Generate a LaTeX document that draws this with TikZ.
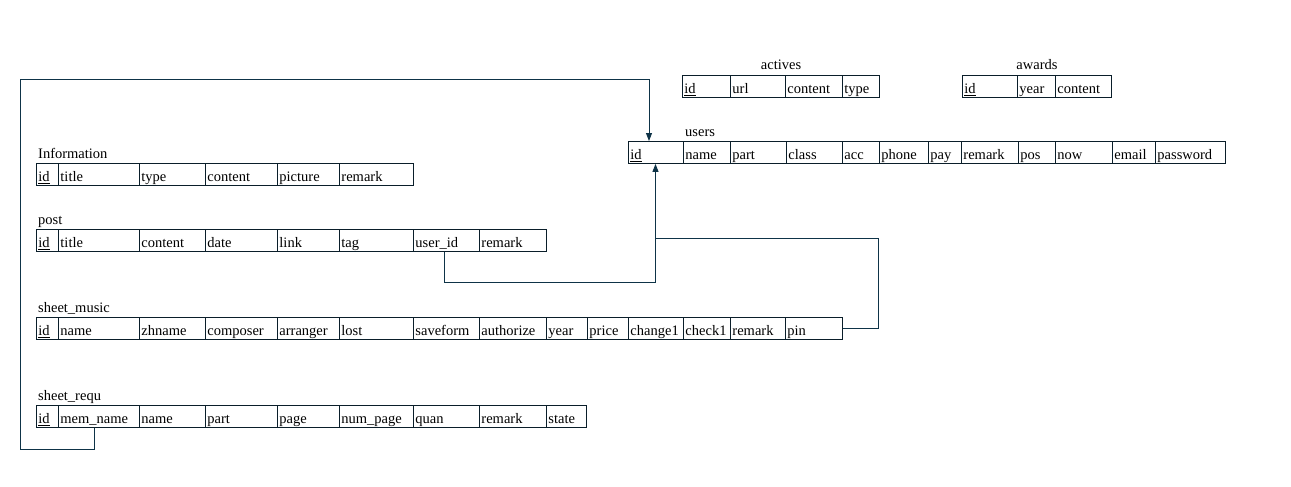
\documentclass[tikz,border=0pt]{standalone}
\usepackage{fontspec}
\setmainfont{Liberation Serif}
\usetikzlibrary{arrows.meta}
\definecolor{tabline}{HTML}{0A1E2A}
\definecolor{conncol}{HTML}{0E3347}
\newcommand{\tabrow}[3]{%
  \foreach \xa/\xb/\key/\txt in {#3}{%
    \pgfmathsetmacro\cw{\xb-\xa-4}%
    \node[cell,text width=\cw pt] (#1-\key) at (\xa,#2) {\txt};
  }%
}
\begin{document}
\begin{tikzpicture}[x=1pt,y=-1pt,
  cell/.style={draw=tabline,line width=0.9pt,anchor=north west,inner xsep=2pt,inner ysep=0pt,
    text height=15pt,text depth=0pt,minimum height=22pt,align=left,
    font=\fontsize{14.5}{16}\selectfont},
  tlabel/.style={inner sep=0pt,font=\fontsize{14.5}{16}\selectfont},
  conn/.style={draw=conncol,line width=0.9pt},
  arr/.style={-{Triangle[length=8pt,width=6pt]}}]
\fill[white] (0,0) rectangle (1291,487);
\useasboundingbox (0,0) rectangle (1291,487);

% labels
\node[tlabel,anchor=base] (lab-actives) at (781,70) {actives};
\node[tlabel,anchor=base] (lab-awards) at (1037,70) {awards};
\node[tlabel,anchor=base west] (lab-users) at (685,136) {users};
\node[tlabel,anchor=base west] (lab-info) at (38,158) {Information};
\node[tlabel,anchor=base west] (lab-post) at (38,224) {post};
\node[tlabel,anchor=base west] (lab-sm) at (38,312) {sheet\_music};
\node[tlabel,anchor=base west] (lab-sr) at (38,400) {sheet\_requ};

% actives
\tabrow{act}{75}{682/730/id/\underline{id}, 730/785/url/url, 785/842/content/content, 842/879/type/type}
% awards
\tabrow{awd}{75}{962/1017/id/\underline{id}, 1017/1055/year/year, 1055/1111/content/content}
% users
\tabrow{users}{141}{628/683/id/\underline{id}, 683/730/name/name, 730/786/part/part, 786/842/class/class,
  842/879/acc/acc, 879/928/phone/phone, 928/961/pay/pay, 961/1018/remark/remark, 1018/1055/pos/pos,
  1055/1112/now/now, 1112/1155/email/email, 1155/1225/password/password}
% Information
\tabrow{info}{163}{36/58/id/\underline{id}, 58/139/title/title, 139/205/type/type, 205/277/content/content,
  277/339/picture/picture, 339/413/remark/remark}
% post
\tabrow{post}{229}{36/58/id/\underline{id}, 58/139/title/title, 139/205/content/content, 205/277/date/date,
  277/339/link/link, 339/413/tag/tag, 413/479/userid/user\_id, 479/546/remark/remark}
% sheet_music
\tabrow{sm}{317}{36/58/id/\underline{id}, 58/139/name/name, 139/205/zhname/zhname, 205/277/composer/composer,
  277/339/arranger/arranger, 339/413/lost/lost, 413/479/saveform/saveform, 479/546/authorize/authorize,
  546/587/year/year, 587/628/price/price, 628/683/change/change1, 683/730/check/check1,
  730/785/remark/remark, 785/842/pin/pin}
% sheet_requ
\tabrow{sr}{405}{36/58/id/\underline{id}, 58/139/memname/mem\_name, 139/205/name/name, 205/277/part/part,
  277/339/page/page, 339/413/numpage/num\_page, 413/479/quan/quan, 479/546/remark/remark, 546/586/state/state}

% connectors
\coordinate (c1) at (20,449);
\coordinate (c2) at (20,79);
\coordinate (c3) at (649,79);
\draw[conn,arr] ([xshift=-4.5pt]sr-memname.south) |- (c1) -- (c2) -- (c3) -- (c3 |- users-id.north);
\coordinate (c4) at (655.5,282);
\draw[conn,arr] ([xshift=-2pt]post-userid.south) |- (c4) -- (c4 |- users-id.south);
\coordinate (c5) at (878,238);
\draw[conn] (sm-pin.east) -| (c5) -- (c5 -| c4);
\end{tikzpicture}
\end{document}
